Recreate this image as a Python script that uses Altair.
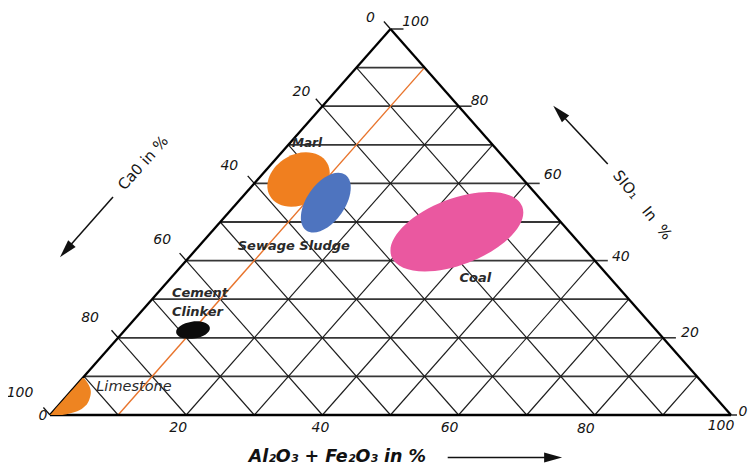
import math
import altair as alt
import pandas as pd

# ------------------------------------------------------------------ data
grid_levels = [10, 20, 30, 40, 50, 60, 70, 80, 90]

cao_ticks = [0, 20, 40, 60, 80, 100]
cao_labels = ["0", "20", "40", "60", "80", "100"]
sio2_ticks = [100, 80, 60, 40, 20, 0]
sio2_labels = ["100", "80", "60", "40", "20", "0"]
al_ticks = [0, 20, 40, 60, 80, 100]
al_labels = ["0", "20", "40", "60", "80", "100"]

materials = ["Marl", "Sewage Sludge", "Coal", "Cement Clinker"]
mat_cao = [33.0, 32.0, 16.5, 68.0]
mat_sio2 = [61.0, 55.0, 47.5, 22.0]
mat_al = [6.0, 13.0, 36.0, 10.0]

# limestone field: curved boundary read as (SiO2, Al2O3+Fe2O3)
lime_sio2 = [9.6, 7.8, 6.0, 3.9, 2.3, 1.0, 0.0]
lime_al = [0.2, 1.8, 3.0, 3.8, 4.0, 3.5, 1.8]

guide_al = 10.0  # constant Al2O3+Fe2O3 guide line

# ------------------------------------------------------------------ style
W, H = 681, 386
PXX, PXY = W / 100.0, H / 100.0
FONT = "DejaVu Sans"

mat_color = ["#F07F1F", "#4E74BF", "#EA58A0", "#0C0C0C"]
mat_len = [66, 68, 140, 34]     # px, major axis
mat_wid = [50, 38, 66, 17]      # px, minor axis
mat_rot = [330, 305, 339, 352]  # deg clockwise

# per-label pixel nudges from their edge anchor
cao_nudge = [(-20, -11), (-21, -14), (-25, -17), (-24, -21), (-28, -20), (-30, -22)]
sio2_nudge = [(25, -7), (21, -5), (26, -8), (26, -4), (27, -5), (12, -3)]
al_nudge = [(-7, 1), (-8, 13), (-2, 13), (-9, 13), (-9, 14), (-10, 11)]
sio2_ext = [13, 13, 13, 13, 13, 6]   # px, right-side tick extensions


def tern_xy(si, al):
    return al + si / 2.0, si


def px_to_data(dx, dy):
    return dx / PXX, -dy / PXY


# ------------------------------------------------------------------ rules
rules = []


def seg(p, q, color, w):
    rules.append(dict(x=p[0], y=p[1], x2=q[0], y2=q[1], color=color, w=w))


GRID_H = "#363636"
GRID_D = "#1c1c1c"
for s in grid_levels:
    seg(tern_xy(s, 0), tern_xy(s, 100 - s), GRID_H, 1.8)
for a in grid_levels:
    if a == guide_al:
        continue
    seg(tern_xy(0, a), tern_xy(100 - a, a), GRID_D, 1.15)
for c in grid_levels:
    seg(tern_xy(0, 100 - c), tern_xy(100 - c, 0), GRID_D, 1.15)

# tick extensions
for s, ext in zip(sio2_ticks, sio2_ext):
    p = tern_xy(s, 100 - s)
    d = px_to_data(ext, 0)
    seg(p, (p[0] + d[0], p[1] + d[1]), GRID_H, 1.6)
for c in cao_ticks:
    p = tern_xy(100 - c, 0)
    d = px_to_data(-6.6, -7.5)
    seg(p, (p[0] + d[0], p[1] + d[1]), "#111111", 1.3)

# guide line
seg(tern_xy(0, guide_al), tern_xy(100 - guide_al, guide_al), "#E8742C", 1.4)

# triangle edges
A, B, C = tern_xy(0, 0), tern_xy(0, 100), tern_xy(100, 0)
seg(A, B, "#000000", 2.3)
seg(B, C, "#000000", 2.3)
seg(A, C, "#000000", 2.3)

# arrows (data-unit start/tip)
arrows = [
    ((9.25, 56.5), (1.47, 40.9)),     # CaO
    ((81.9, 65.0), (73.9, 80.1)),     # SiO2
    ((58.4, -11.0), (75.2, -11.0)),   # Al2O3 + Fe2O3
]
heads = []
for (sx, sy), (tx, ty) in arrows:
    dxp, dyp = (tx - sx) * PXX, -(ty - sy) * PXY
    L = math.hypot(dxp, dyp)
    ux, uy = dxp / L, dyp / L
    e = px_to_data(-14 * ux, -14 * uy)
    seg((sx, sy), (tx + e[0], ty + e[1]), "#111111", 1.5)
    hc = px_to_data(-9 * ux, -9 * uy)
    ang = math.degrees(math.atan2(ux, -uy)) % 360
    heads.append(dict(x=tx + hc[0], y=ty + hc[1], angle=ang))

rules_df = pd.DataFrame(rules)
heads_df = pd.DataFrame(heads)

xs = alt.Scale(domain=[0, 100], nice=False, zero=False)
ys = alt.Scale(domain=[0, 100], nice=False, zero=False)
X = lambda f="x": alt.X(f"{f}:Q", scale=xs, axis=None)
Y = lambda f="y": alt.Y(f"{f}:Q", scale=ys, axis=None)

rule_layer = alt.Chart(rules_df).mark_rule(strokeCap="butt").encode(
    x=X(), y=Y(), x2="x2:Q", y2="y2:Q",
    color=alt.Color("color:N", scale=None),
    strokeWidth=alt.StrokeWidth("w:Q", scale=None),
)

head_path = "M0,-1L0.55,1L-0.55,1Z"
heads_df["shape"] = head_path
head_layer = alt.Chart(heads_df).mark_point(filled=True, opacity=1, color="#111111").encode(
    x=X(), y=Y(),
    shape=alt.Shape("shape:N", scale=None),
    angle=alt.Angle("angle:Q", scale=None),
    size=alt.value(324),
)

# ------------------------------------------------------------------ fields


def ellipse_path(r):
    k = 0.5523
    return (f"M1,0 C1,{k*r:.4f} {k:.4f},{r:.4f} 0,{r:.4f} "
            f"C{-k:.4f},{r:.4f} -1,{k*r:.4f} -1,0 "
            f"C-1,{-k*r:.4f} {-k:.4f},{-r:.4f} 0,{-r:.4f} "
            f"C{k:.4f},{-r:.4f} 1,{-k*r:.4f} 1,0 Z")


blob_rows = []
for i, name in enumerate(materials):
    x, y = tern_xy(mat_sio2[i], mat_al[i])
    blob_rows.append(dict(
        name=name, x=x, y=y,
        shape=ellipse_path(mat_wid[i] / mat_len[i]),
        size=mat_len[i] ** 2, angle=mat_rot[i], color=mat_color[i],
    ))
blob_df = pd.DataFrame(blob_rows)
blob_layer = alt.Chart(blob_df).mark_point(filled=True, opacity=1, strokeWidth=0).encode(
    x=X(), y=Y(),
    shape=alt.Shape("shape:N", scale=None),
    size=alt.Size("size:Q", scale=None),
    angle=alt.Angle("angle:Q", scale=None),
    color=alt.Color("color:N", scale=None),
)

lime_df = pd.DataFrame({
    "y": lime_sio2,
    "xl": [s / 2.0 for s in lime_sio2],
    "xr": [a + s / 2.0 for s, a in zip(lime_sio2, lime_al)],
})
lime_layer = alt.Chart(lime_df).mark_area(
    orient="horizontal", interpolate="monotone", color="#EE8421", opacity=1
).encode(y=Y(), x=X("xl"), x2="xr:Q")

# ------------------------------------------------------------------ texts
tick_rows = []
for v, lab, (dx, dy) in zip(cao_ticks, cao_labels, cao_nudge):
    x, y = tern_xy(100 - v, 0)
    d = px_to_data(dx, dy)
    tick_rows.append(dict(x=x + d[0], y=y + d[1], t=lab))
for v, lab, (dx, dy) in zip(sio2_ticks, sio2_labels, sio2_nudge):
    x, y = tern_xy(v, 100 - v)
    d = px_to_data(dx, dy)
    tick_rows.append(dict(x=x + d[0], y=y + d[1], t=lab))
for v, lab, (dx, dy) in zip(al_ticks, al_labels, al_nudge):
    x, y = tern_xy(0, v)
    d = px_to_data(dx, dy)
    tick_rows.append(dict(x=x + d[0], y=y + d[1], t=lab))
tick_df = pd.DataFrame(tick_rows)
tick_layer = alt.Chart(tick_df).mark_text(
    font=FONT, fontSize=14, fontStyle="italic", color="#151515",
    align="center", baseline="middle",
).encode(x=X(), y=Y(), text="t:N")

field_labels = pd.DataFrame({
    "t": ["Marl", "Sewage Sludge", "Coal"],
    "x": [37.74, 35.80, 62.45],
    "y": [70.47, 43.78, 35.49],
    "fs": [12, 13, 13],
})
field_layer = alt.Chart(field_labels).mark_text(
    font=FONT, fontStyle="italic", fontWeight="bold", color="#2a2a2a",
    align="center", baseline="middle",
).encode(x=X(), y=Y(), text="t:N", size=alt.Size("fs:Q", scale=None))

clinker_labels = pd.DataFrame({
    "t": ["Cement", "Clinker"],
    "x": [17.9, 17.9],
    "y": [31.6, 26.7],
})
clinker_layer = alt.Chart(clinker_labels).mark_text(
    font=FONT, fontStyle="italic", fontWeight="bold", fontSize=13, color="#2a2a2a",
    align="left", baseline="middle",
).encode(x=X(), y=Y(), text="t:N")

lime_label = pd.DataFrame({"t": ["Limestone"], "x": [12.33], "y": [7.25]})
lime_text = alt.Chart(lime_label).mark_text(
    font=FONT, fontStyle="italic", fontSize=14.5, color="#2a2a2a",
    align="center", baseline="middle",
).encode(x=X(), y=Y(), text="t:N")

NB = "\u00a0"
axis_titles = pd.DataFrame({
    "t": ["Ca0 in %", "SIO\u2081" + NB * 3 + "In" + NB * 2 + "%"],
    "x": [13.66, 87.0],
    "y": [65.3, 54.4],
    "a": [312, 51],
})
axis_title_layer = alt.Chart(axis_titles).mark_text(
    font=FONT, fontSize=15, color="#151515", align="center", baseline="middle",
).encode(x=X(), y=Y(), text="t:N", angle=alt.Angle("a:Q", scale=None))

bottom_title = pd.DataFrame({"t": ["Al\u2082O\u2083 + Fe\u2082O\u2083 in %"], "x": [42.2], "y": [-11.0]})
bottom_title_layer = alt.Chart(bottom_title).mark_text(
    font=FONT, fontSize=17.5, fontStyle="italic", fontWeight="bold", color="#111111",
    align="center", baseline="middle",
).encode(x=X(), y=Y(), text="t:N")

chart = alt.layer(
    rule_layer, lime_layer, blob_layer, head_layer,
    tick_layer, field_layer, clinker_layer, lime_text,
    axis_title_layer, bottom_title_layer,
).properties(
    width=W, height=H, autosize="none",
    padding={"left": 42, "top": 21, "right": 17, "bottom": 50},
    background="white",
).configure_view(stroke=None)

chart.save("out.html", embed_options={"renderer": "svg", "actions": False})
